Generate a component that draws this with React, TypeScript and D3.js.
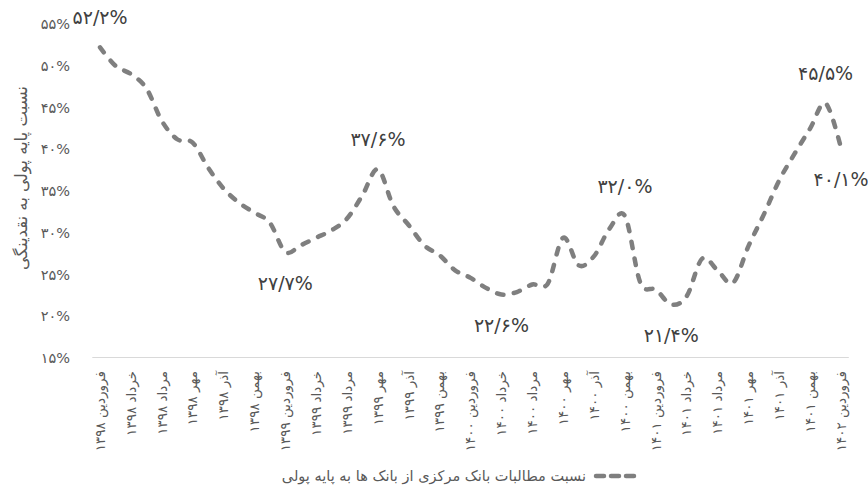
import { useMemo } from 'react';
import * as d3 from 'd3';

const MONTHS = ['فروردین', 'اردیبهشت', 'خرداد', 'تیر', 'مرداد', 'شهریور', 'مهر', 'آبان', 'آذر', 'دی', 'بهمن', 'اسفند'];
const YEARS = ['۱۳۹۸', '۱۳۹۹', '۱۴۰۰', '۱۴۰۱', '۱۴۰۲'];

// monthly, farvardin 1398 .. farvardin 1402
const CATEGORIES: string[] = YEARS.flatMap((y) => MONTHS.map((m) => `${m} ${y}`)).slice(0, 49);

// نسبت پایه پولی به نقدینگی (%)
const VALUES = [
  52.2, 50.0, 49.0, 47.3, 43.4, 41.2, 40.8, 37.8, 35.3, 33.6,
  32.4, 31.2, 27.7, 28.5, 29.4, 30.3, 31.7, 34.5, 37.6, 33.2,
  30.9, 28.5, 27.3, 25.5, 24.6, 23.4, 22.6, 22.9, 23.8, 23.9,
  29.4, 26.1, 27.2, 30.5, 32.0, 24.0, 23.2, 21.4, 22.4, 26.9,
  25.5, 24.0, 28.4, 32.2, 36.3, 39.5, 42.5, 45.5, 40.1,
];

const Y_TICKS = [15, 20, 25, 30, 35, 40, 45, 50, 55];

// data labels: index and side
const ANNOTATED = [
  { i: 0, side: 'above' },
  { i: 12, side: 'below' },
  { i: 18, side: 'above' },
  { i: 26, side: 'below' },
  { i: 34, side: 'above' },
  { i: 37, side: 'below' },
  { i: 47, side: 'above' },
  { i: 48, side: 'below' },
];

const SERIES_NAME = 'نسبت مطالبات بانک مرکزی از بانک ها به پایه پولی';
const Y_TITLE = 'نسبت پایه پولی به نقدینگی';

const FA_DIGITS = '۰۱۲۳۴۵۶۷۸۹';
const fa = (s: string) => s.replace(/[0-9]/g, (d) => FA_DIGITS[+d]);
const fmtPct = (v: number) => fa(v.toFixed(1)).replace('.', '/') + '%';

const W = 868;
const H = 485;
const FONT = '"DejaVu Sans", sans-serif';
const LINE_COLOR = '#7f7f7f';
const TEXT_COLOR = '#595959';

export default function App() {
  const x = useMemo(
    () => d3.scalePoint<number>().domain(d3.range(CATEGORIES.length)).range([92.3, 848.8]).padding(0.5),
    [],
  );
  const y = useMemo(() => d3.scaleLinear().domain([15, 55]).range([358, 24]), []);

  const path = d3
    .line<number>()
    .x((_, i) => x(i) ?? 0)
    .y((d) => y(d))
    .curve(d3.curveCardinal.tension(0))(VALUES) ?? '';

  return (
    <svg
      width={W}
      height={H}
      style={{ position: 'absolute', left: 0, top: 0, background: '#fff' }}
      fontFamily={FONT}
    >
      {/* y tick labels */}
      {Y_TICKS.map((t) => (
        <text key={t} x={70} y={y(t)} dy="0.35em" textAnchor="end" fontSize={14.5} fill={TEXT_COLOR}>
          {fa(String(t)) + '%'}
        </text>
      ))}

      <text
        transform={`translate(21,${178}) rotate(-90)`}
        textAnchor="middle"
        dy="0.35em"
        fontSize={16.5}
        fill={TEXT_COLOR}
      >
        {Y_TITLE}
      </text>

      {/* x axis line */}
      <line x1={92.3} x2={848.8} y1={357.5} y2={357.5} stroke="#d9d9d9" strokeWidth={1} />

      {/* x tick labels, every other month */}
      {CATEGORIES.map((c, i) =>
        i % 2 === 0 ? (
          <text
            key={c}
            transform={`translate(${x(i)},${371}) rotate(-90)`}
            textAnchor="end"
            dy="0.35em"
            fontSize={13.5}
            fill={TEXT_COLOR}
          >
            {c}
          </text>
        ) : null,
      )}

      <path
        d={path}
        fill="none"
        stroke={LINE_COLOR}
        strokeWidth={4.5}
        strokeDasharray="6.5 10.5"
        strokeLinecap="round"
        strokeLinejoin="round"
      />

      {ANNOTATED.map(({ i, side }) => (
        <text
          key={i}
          x={x(i)}
          y={y(VALUES[i]) + (side === 'above' ? -30 : 31)}
          dy="0.35em"
          textAnchor="middle"
          fontSize={19}
          fill="#404040"
        >
          {fmtPct(VALUES[i])}
        </text>
      ))}

      {/* legend */}
      <g transform="translate(0,476)">
        <text x={586} dy="0.35em" textAnchor="end" fontSize={14.5} fill={TEXT_COLOR}>
          {SERIES_NAME}
        </text>
        <line
          x1={596}
          x2={637}
          y1={0}
          y2={0}
          stroke={LINE_COLOR}
          strokeWidth={4.5}
          strokeDasharray="8 7"
          strokeLinecap="round"
        />
      </g>
    </svg>
  );
}
